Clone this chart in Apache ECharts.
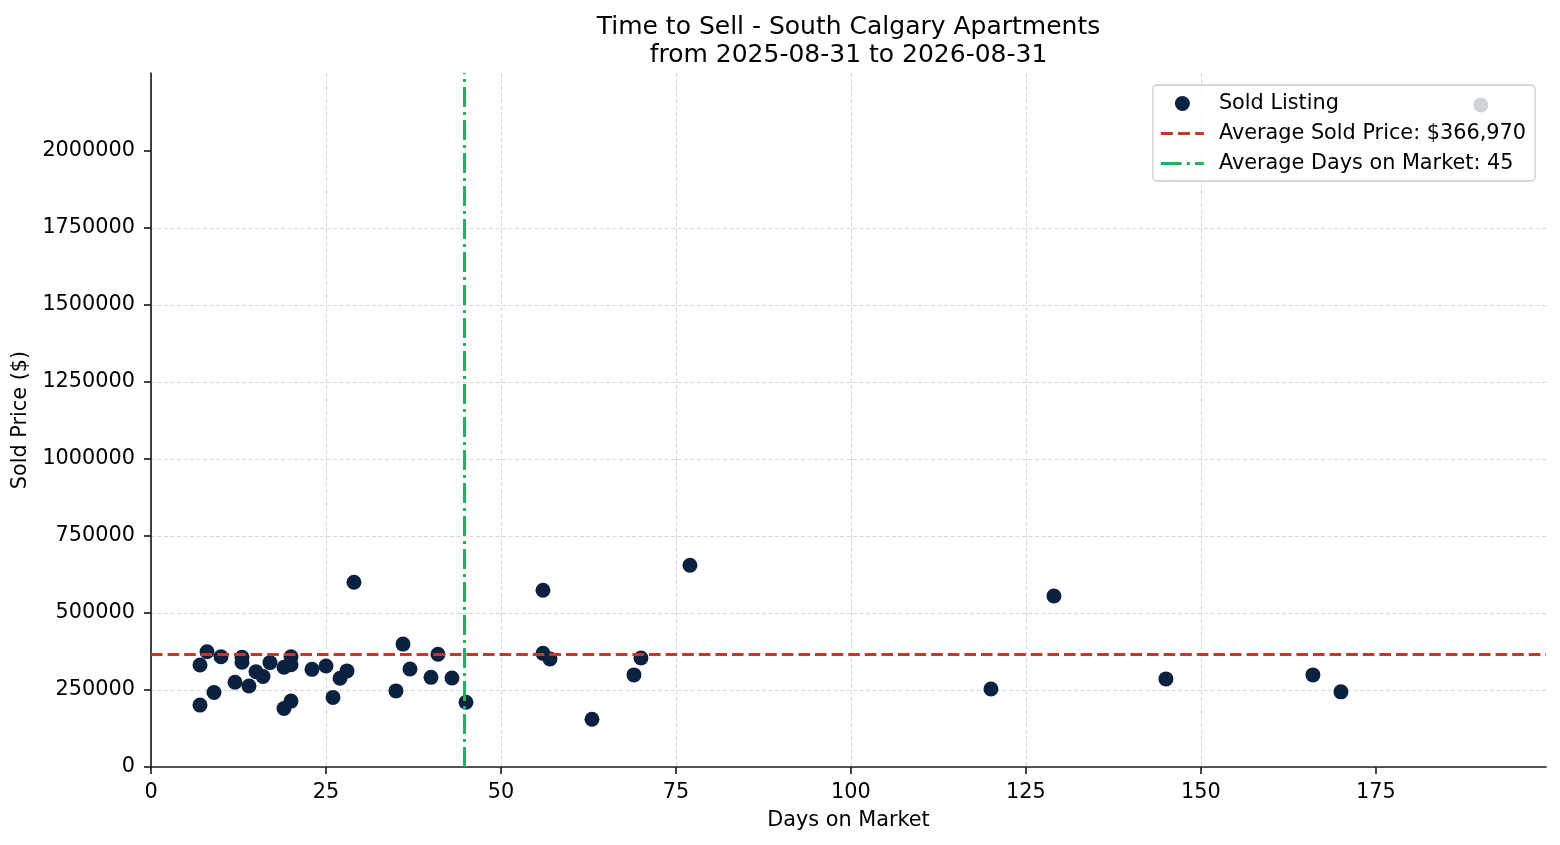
<!DOCTYPE html>
<html>
<head>
<meta charset="utf-8">
<title>Time to Sell - South Calgary Apartments</title>
<script src="https://cdn.jsdelivr.net/npm/echarts@6.0.0/dist/echarts.min.js"></script>
<style>
  html, body { margin: 0; padding: 0; background: #fff; }
  #chart { width: 1560px; height: 845px; }
</style>
</head>
<body>
<div id="chart"></div>
<script>
// days on market / sold price for each sold listing
const days = [
  7, 7, 8, 9, 10, 12, 13, 13, 14, 15,
  16, 17, 19, 19, 20, 20, 20, 23, 25, 26,
  27, 28, 29, 35, 36, 37, 40, 41, 43, 45,
  56, 56, 57, 63, 69, 70, 77, 120, 129, 145,
  166, 170, 190
];
const prices = [
  331000, 201000, 374000, 242000, 358000, 275000, 356000, 340000, 263000, 309000,
  294000, 339000, 324000, 190000, 358000, 332000, 214000, 317000, 328000, 226000,
  288000, 312000, 600000, 247000, 399000, 318000, 291000, 366000, 289000, 210000,
  574000, 369000, 351000, 155000, 299000, 354000, 655000, 253000, 555000, 286000,
  299000, 244000, 2149000
];

// the averages as drawn (the legend shows the rounded day count)
const avgPrice = 366970;
const avgDays = 44.75;

const xTicks = [0, 25, 50, 75, 100, 125, 150, 175];
const yTicks = [0, 250000, 500000, 750000, 1000000, 1250000, 1500000, 1750000, 2000000];

const FONT = "DejaVu Sans";
const INK = "#222222";
const NAVY = "#0b2140";
const RED = "#c0392b";
const GREEN = "#27ae60";

// legend handles drawn as little dash patterns (matplotlib style)
const DASH_ICON = "path://M0,0h11.6v3h-11.6z M16.6,0h11.6v3h-11.6z M33.2,0h8.4v3h-8.4z";
const DASHDOT_ICON = "path://M0,0h20v3h-20z M25,0h3v3h-3z M33,0h8.6v3h-8.6z";

const chart = echarts.init(document.getElementById("chart"), null, { renderer: "canvas" });

const priceLabel = "Average Sold Price: $" + avgPrice.toLocaleString("en-US");
const daysLabel = "Average Days on Market: " + Math.round(avgDays);

function axisBase(ticks) {
  return {
    type: "value",
    min: 0,
    axisLine: { show: true, lineStyle: { color: INK, width: 1.7 } },
    axisTick: {
      show: true,
      inside: false,
      length: 7,
      customValues: ticks,
      lineStyle: { color: INK, width: 1.7 },
    },
    axisLabel: {
      customValues: ticks,
      color: "#000",
      fontFamily: FONT,
      fontSize: 20.8,
      formatter: (v) => String(v),
    },
    splitLine: {
      show: true,
      showMaxLine: false,
      lineStyle: { color: "#d6d6d6", width: 1, type: [4, 2.5] },
    },
    nameLocation: "middle",
    nameTextStyle: { color: "#000", fontFamily: FONT, fontSize: 20.8 },
  };
}

const xAxis = axisBase(xTicks);
xAxis.max = 199.3;
xAxis.interval = 25;
xAxis.name = "Days on Market";
xAxis.nameGap = 43;
xAxis.axisLabel.margin = 15;

const yAxis = axisBase(yTicks);
yAxis.max = 2253000;
yAxis.interval = 250000;
yAxis.name = "Sold Price ($)";
yAxis.nameGap = 113;
yAxis.axisLabel.margin = 16;
yAxis.axisLabel.padding = [6, 0, 0, 0];

chart.setOption({
  animation: false,
  backgroundColor: "#ffffff",
  textStyle: { fontFamily: FONT },
  title: {
    text: "Time to Sell - South Calgary Apartments\nfrom 2025-08-31 to 2026-08-31",
    left: 848.5,
    top: 13,
    padding: 0,
    textAlign: "center",
    textStyle: {
      color: "#000",
      fontFamily: FONT,
      fontSize: 25,
      fontWeight: "normal",
      lineHeight: 28,
    },
  },
  grid: {
    left: 151,
    right: 14,
    top: 73,
    bottom: 78,
    containLabel: false,
    outerBoundsMode: "none",
  },
  legend: {
    orient: "vertical",
    right: 25,
    top: 85,
    padding: [8, 9, 7, 8],
    itemGap: 9,
    itemWidth: 43,
    itemHeight: 15,
    backgroundColor: "rgba(255,255,255,0.8)",
    borderColor: "#cccccc",
    borderWidth: 1.3,
    borderRadius: 4,
    z: 10,
    textStyle: {
      color: "#000",
      fontFamily: FONT,
      fontSize: 20.8,
      lineHeight: 21,
      padding: [0, 0, 0, 10],
    },
    data: [
      { name: "Sold Listing", icon: "circle" },
      { name: priceLabel, icon: DASH_ICON },
      { name: daysLabel, icon: DASHDOT_ICON },
    ],
  },
  xAxis: xAxis,
  yAxis: yAxis,
  series: [
    {
      name: "Sold Listing",
      type: "scatter",
      symbol: "circle",
      symbolSize: 15,
      itemStyle: { color: NAVY, opacity: 1 },
      data: days.map((d, i) => [d, prices[i]]),
      z: 2,
    },
    {
      name: priceLabel,
      type: "line",
      symbol: "none",
      data: [],
      lineStyle: { color: RED, width: 3, type: [11.6, 5] },
      itemStyle: { color: RED },
      markLine: {
        silent: true,
        symbol: "none",
        animation: false,
        label: { show: false },
        lineStyle: { color: RED, width: 3, type: [11.6, 5] },
        data: [{ yAxis: avgPrice }],
      },
      z: 3,
    },
    {
      name: daysLabel,
      type: "line",
      symbol: "none",
      data: [],
      lineStyle: { color: GREEN, width: 3, type: [20, 5, 3, 5] },
      itemStyle: { color: GREEN },
      markLine: {
        silent: true,
        symbol: "none",
        animation: false,
        label: { show: false },
        lineStyle: { color: GREEN, width: 3, type: [20, 5, 3, 5] },
        data: [{ xAxis: avgDays }],
      },
      z: 3,
    },
  ],
});
</script>
</body>
</html>
